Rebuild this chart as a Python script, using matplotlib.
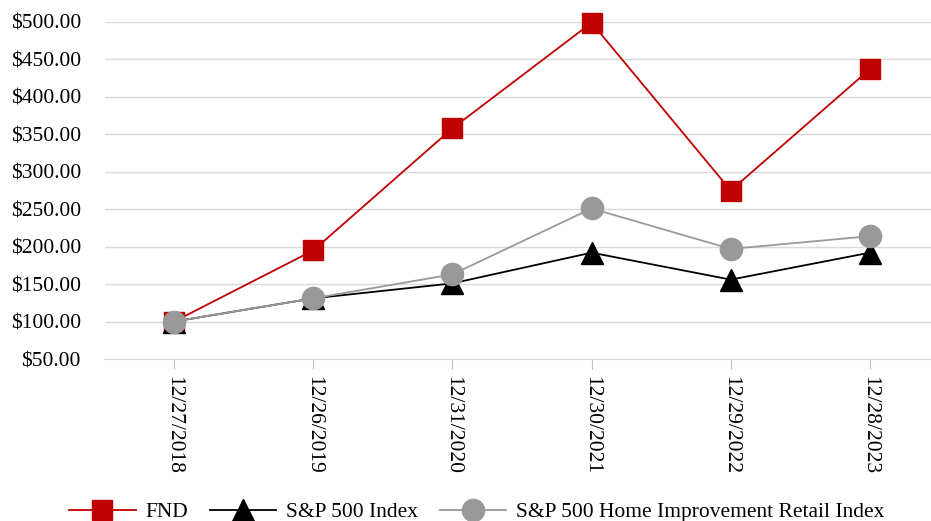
import matplotlib.pyplot as plt
import numpy as np

plt.rcParams['font.family'] = ['Liberation Serif', 'DejaVu Serif']

dates = ["12/27/2018", "12/26/2019", "12/31/2020", "12/30/2021", "12/29/2022", "12/28/2023"]
fnd = [100, 195, 358, 499, 275, 437]
sp500 = [100, 131, 151, 192, 156, 192]
home_improvement = [100, 131, 163, 251, 197, 214]
y_ticks = [50, 100, 150, 200, 250, 300, 350, 400, 450, 500]

fig = plt.figure(figsize=(9.31, 5.21), dpi=100)
ax = fig.add_axes([104.5 / 931, 1 - 359 / 521, 835 / 931, 337 / 521])

x = np.arange(len(dates))
ax.plot(x, fnd, color="#c00000", lw=1.3, marker="s", ms=15, label="FND", clip_on=False)
ax.plot(x, sp500, color="black", lw=1.3, marker="^", ms=16, label="S&P 500 Index", clip_on=False)
ax.plot(x, home_improvement, color="#999999", lw=1.3, marker="o", ms=16,
        label="S&P 500 Home Improvement Retail Index", clip_on=False)

ax.set_xlim(-0.5, len(dates) - 0.5)
ax.set_ylim(50, 500)
ax.set_yticks(y_ticks)
ax.set_yticklabels([f"${v:.2f}" for v in y_ticks])
ax.set_xticks(x)
ax.set_xticklabels(dates, rotation=-90)
ax.yaxis.grid(True, color="#d9d9d9", lw=1)
ax.set_axisbelow(True)
for side in ("top", "right", "left"):
    ax.spines[side].set_visible(False)
ax.spines["bottom"].set_color("#d9d9d9")
ax.tick_params(axis="y", length=0, pad=17, labelsize=15.5)
ax.tick_params(axis="x", length=7, color="#bfbfbf", pad=5, labelsize=15.5)

fig.legend(loc="lower center", bbox_to_anchor=(0.512, -0.04), ncol=3, frameon=False,
           fontsize=15.5, handlelength=3.1, columnspacing=1.0, handletextpad=0.45)

fig.savefig("out.png", dpi=100)
